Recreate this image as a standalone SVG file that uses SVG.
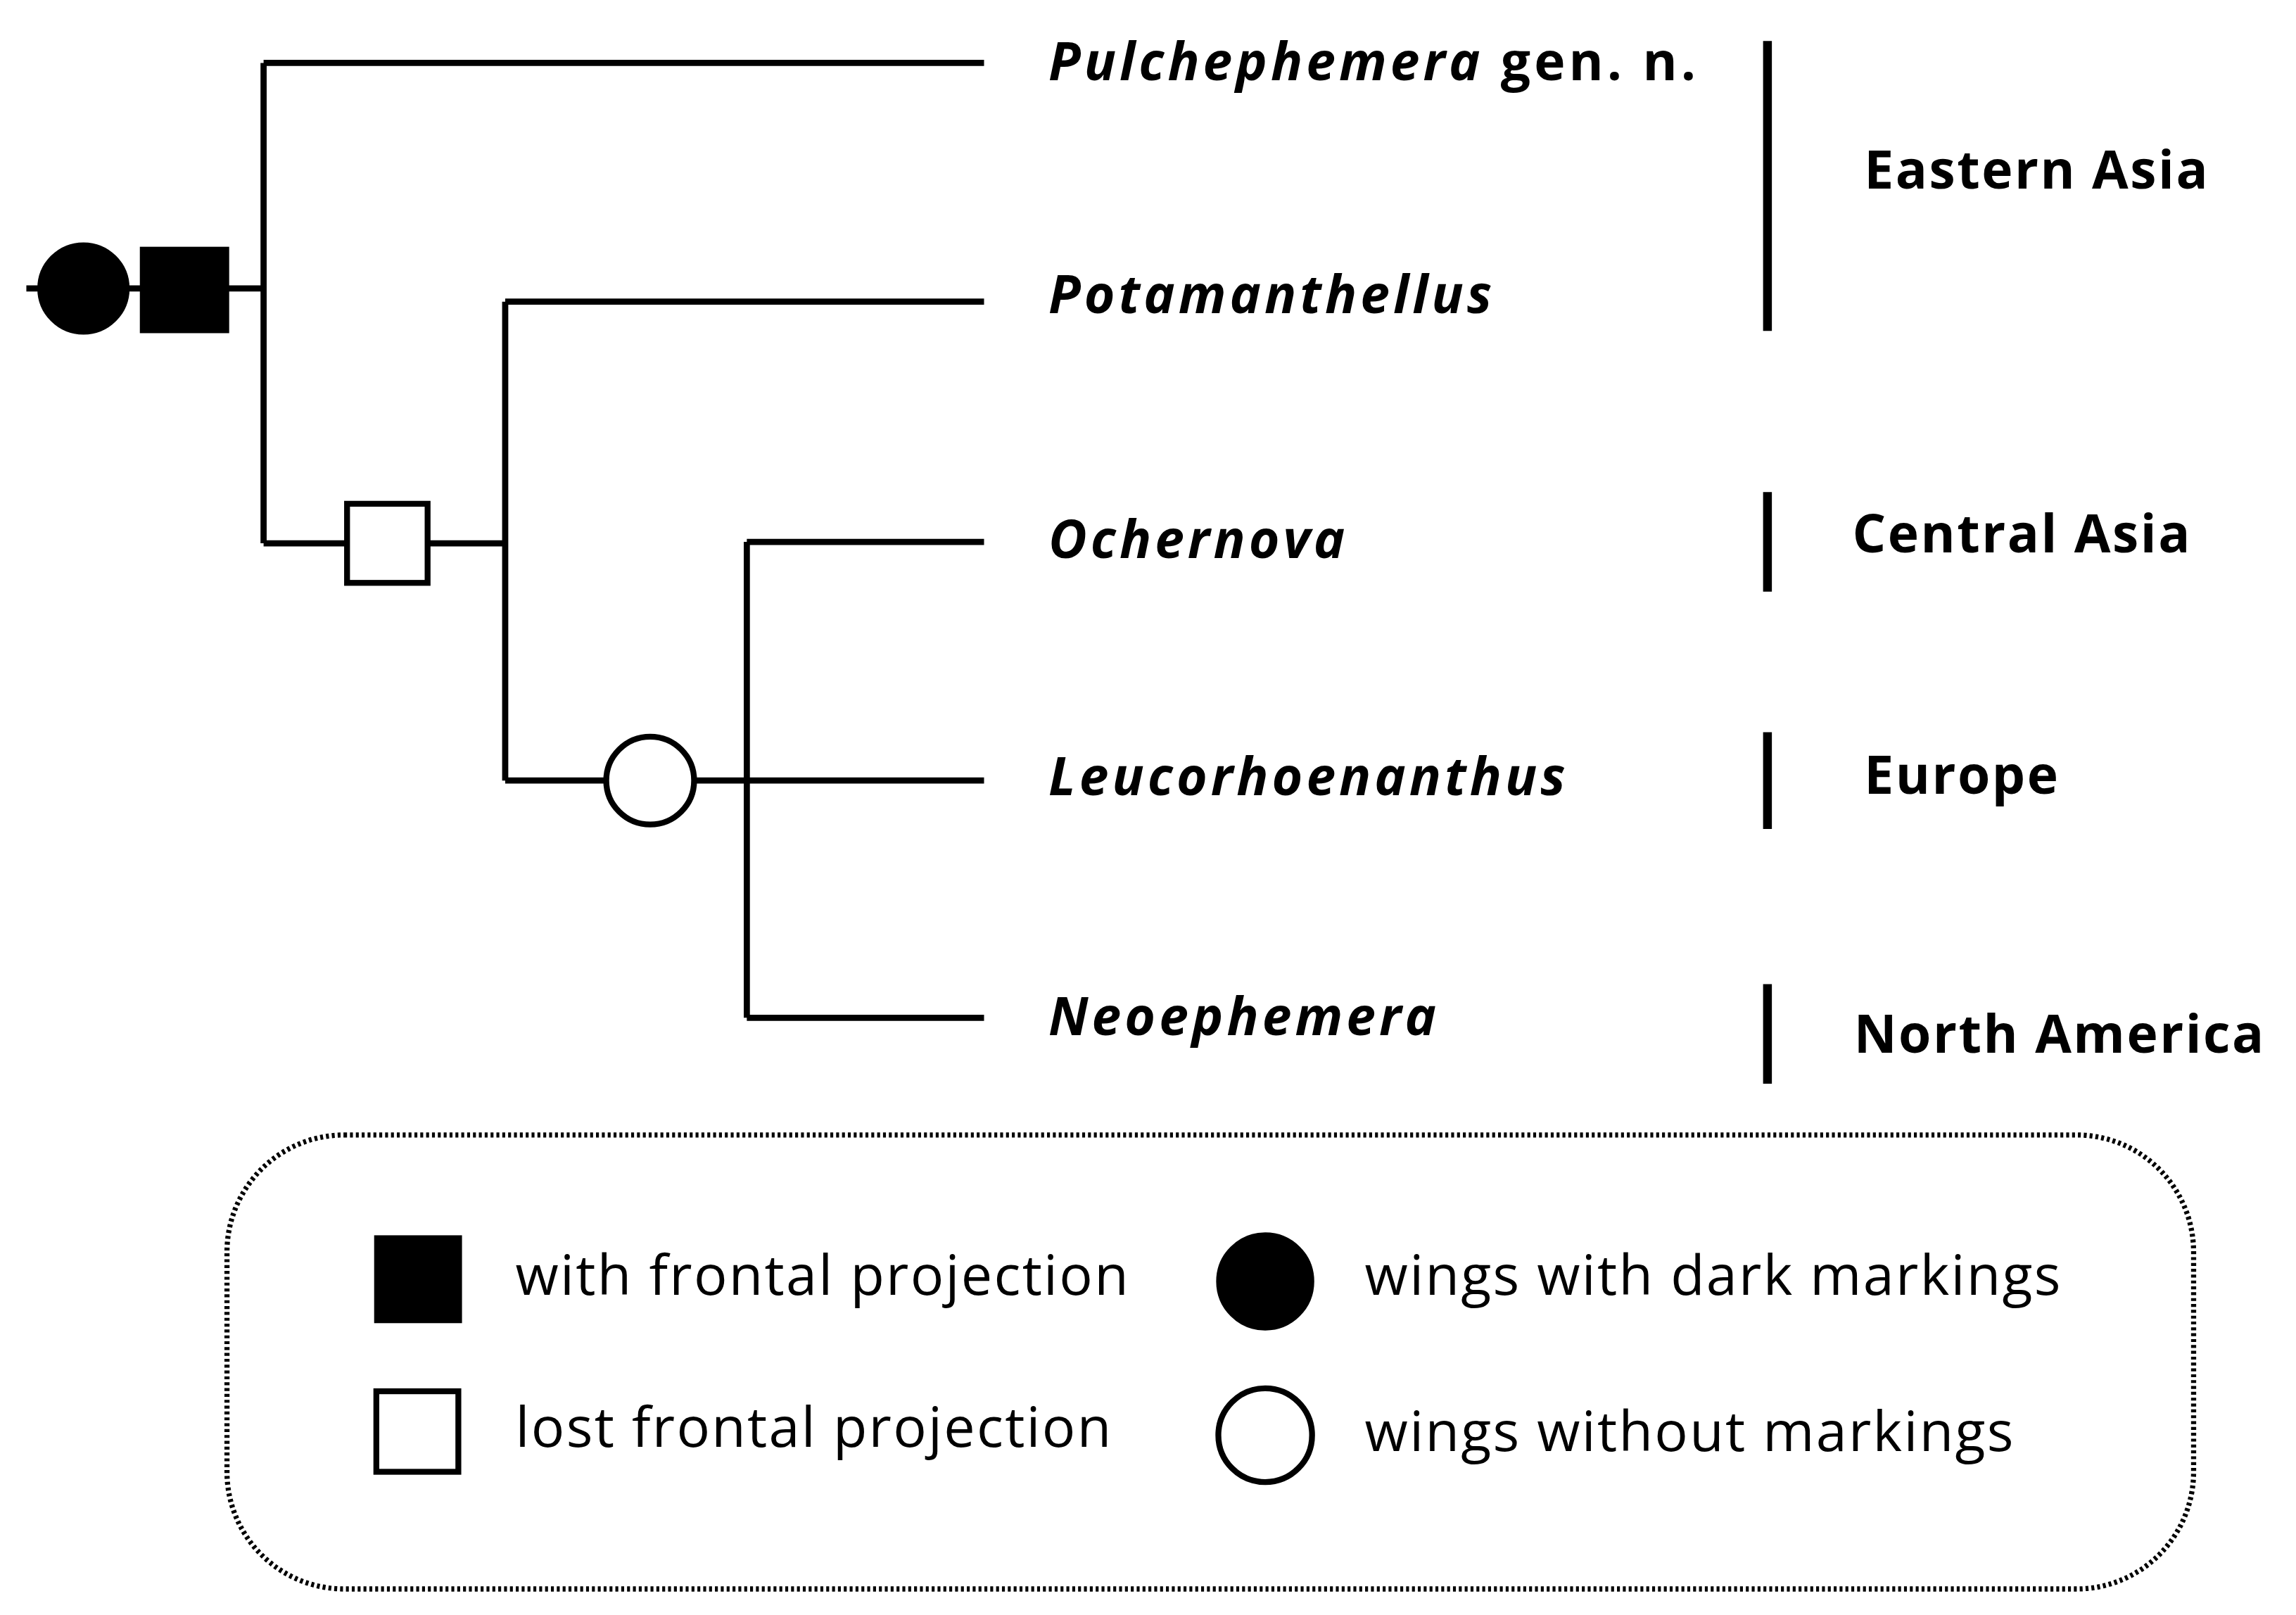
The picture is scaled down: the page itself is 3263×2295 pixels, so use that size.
<svg xmlns="http://www.w3.org/2000/svg" width="3263" height="2295" viewBox="0 0 3263 2295">
<style>
.l{stroke:#000;stroke-width:4.2;fill:none}
.f{fill:#000;stroke:#000;stroke-width:3}
.o{fill:#fff;stroke:#000;stroke-width:4}
.t{font-family:"Open Sans","Liberation Sans",sans-serif;font-weight:bold;font-style:italic;font-size:36px;letter-spacing:2.4px}
.r{font-family:"Open Sans","Liberation Sans",sans-serif;font-weight:bold;font-size:36px;letter-spacing:1.2px}
.g{font-family:"Open Sans","Liberation Sans",sans-serif;font-size:38px;letter-spacing:1.1px}
.b{stroke:#000;stroke-width:6}
</style>
<rect width="3263" height="2295" fill="#fff"/>
<g transform="scale(2.0811)">
<g id="connectors">
<path class="l" d="M18 197H180M180 43V371M180 43H672M180 371H345M345 206V533M345 206H672M345 533H672M510 370V695M510 370H672M510 695H672"/>
</g>
<g id="markers">
<circle class="f" cx="57" cy="197" r="30"/>
<rect class="f" x="97" y="170" width="58" height="56"/>
<rect class="o" x="237" y="344" width="55" height="54"/>
<circle class="o" cx="444" cy="533" r="30"/>
</g>
<g id="taxa">
<text class="t" x="716" y="55">Pulchephemera<tspan font-style="normal"> gen. n.</tspan></text>
<text class="t" x="716" y="214">Potamanthellus</text>
<text class="t" x="716" y="381">Ochernova</text>
<text class="t" x="716" y="543">Leucorhoenanthus</text>
<text class="t" x="716" y="707">Neoephemera</text>
</g>
<g id="regions">
<line class="b" x1="1207" y1="28" x2="1207" y2="226"/>
<line class="b" x1="1207" y1="336" x2="1207" y2="404"/>
<line class="b" x1="1207" y1="500" x2="1207" y2="566"/>
<line class="b" x1="1207" y1="672" x2="1207" y2="740"/>
<text class="r" x="1273" y="129">Eastern Asia</text>
<text class="r" x="1265" y="377">Central Asia</text>
<text class="r" x="1273" y="542">Europe</text>
<text class="r" x="1266" y="719">North America</text>
</g>
<g id="legend">
<rect x="155" y="775" width="1343" height="310" rx="80" fill="none" stroke="#000" stroke-width="3.5" stroke-dasharray="2,2"/>
<rect class="f" x="257" y="845" width="57" height="57"/>
<rect class="o" x="257" y="950" width="56" height="55"/>
<circle class="f" cx="864" cy="875" r="32"/>
<circle class="o" cx="864" cy="980" r="32"/>
<text class="g" x="352" y="884">with frontal projection</text>
<text class="g" x="352" y="988">lost frontal projection</text>
<text class="g" x="932" y="884">wings with dark markings</text>
<text class="g" x="932" y="991">wings without markings</text>
</g>
</g>
</svg>
